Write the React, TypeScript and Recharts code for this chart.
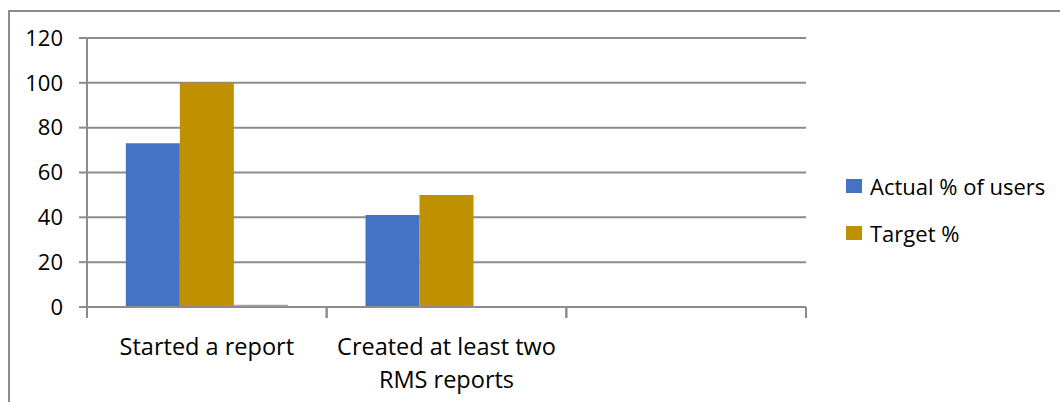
import { BarChart, Bar, XAxis, YAxis, CartesianGrid, Legend } from 'recharts'

const categories = ['Started a report', 'Created at least two RMS reports', '']
const actualPct = [73, 41, 0]
const targetPct = [100, 50, 0]
const otherPct = [1, 0, 0]
const yTicks = [0, 20, 40, 60, 80, 100, 120]

const BLUE = '#4472C4'
const GOLD = '#BF9000'
const GRAY = '#A5A5A5'
const LINE = '#8c8c8c'
const FONT = '"Open Sans", "Noto Sans", sans-serif'
const CAT_SIZE = 23.5

const data = categories.map((name, i) => ({
  name,
  actual: actualPct[i],
  target: targetPct[i],
  other: otherPct[i],
}))

const legendItems = [
  { label: 'Actual % of users', color: BLUE },
  { label: 'Target %', color: GOLD },
]

let ctx: CanvasRenderingContext2D | null = null
function wrap(text: string, maxW: number): string[] {
  if (!ctx) ctx = document.createElement('canvas').getContext('2d')
  if (!ctx) return [text]
  ctx.font = `${CAT_SIZE}px ${FONT}`
  const lines: string[] = []
  let cur = ''
  for (const w of text.split(' ')) {
    const next = cur ? cur + ' ' + w : w
    if (cur && ctx.measureText(next).width > maxW) {
      lines.push(cur)
      cur = w
    } else cur = next
  }
  if (cur) lines.push(cur)
  return lines
}

function CatTick({ x, y, payload }: any) {
  const half = payload.offset ?? 0
  const lines = wrap(String(payload.value), half * 2 - 6)
  return (
    <g>
      <line x1={x - half} x2={x - half} y1={y} y2={y + 11} stroke={LINE} strokeWidth={2} />
      <line x1={x + half} x2={x + half} y1={y} y2={y + 11} stroke={LINE} strokeWidth={2} />
      <text textAnchor="middle" fontSize={CAT_SIZE} fontFamily={FONT} fill="#000">
        {lines.map((l, i) => (
          <tspan key={i} x={x} y={y + 48 + i * 33}>
            {l}
          </tspan>
        ))}
      </text>
    </g>
  )
}

function LegendBox() {
  return (
    <div style={{ fontFamily: FONT, fontSize: 22, color: '#000' }}>
      {legendItems.map((it) => (
        <div key={it.label} style={{ display: 'flex', alignItems: 'center', height: 47 }}>
          <span style={{ width: 16, height: 14, background: it.color, marginRight: 8 }} />
          <span>{it.label}</span>
        </div>
      ))}
    </div>
  )
}

export default function App() {
  return (
    <div style={{ position: 'absolute', left: 0, top: 0, width: 1060, height: 402, overflow: 'hidden', background: '#fff' }}>
      <div
        style={{
          position: 'absolute',
          left: 8,
          top: 10,
          width: 1100,
          height: 500,
          border: `2px solid ${LINE}`,
        }}
      />
      <div style={{ position: 'absolute', left: 0, top: 0 }}>
        <BarChart
          width={1060}
          height={402}
          data={data}
          margin={{ top: 38, right: 40, bottom: 4, left: 0 }}
          barCategoryGap="16.2%"
          barGap={0}
        >
          <CartesianGrid vertical={false} stroke={LINE} strokeWidth={2} />
          <XAxis
            dataKey="name"
            height={91}
            axisLine={{ stroke: LINE, strokeWidth: 2 }}
            tickLine={false}
            tickSize={0}
            tickMargin={0}
            interval={0}
            tick={<CatTick />}
          />
          <YAxis
            width={87}
            domain={[0, 120]}
            ticks={yTicks}
            tickSize={8}
            tickMargin={16}
            axisLine={{ stroke: LINE, strokeWidth: 2 }}
            tickLine={{ stroke: LINE, strokeWidth: 2 }}
            tick={{ fontSize: 22, fontFamily: FONT, fill: '#000' }}
          />
          <Legend
            layout="vertical"
            align="right"
            verticalAlign="middle"
            content={<LegendBox />}
            wrapperStyle={{ left: 846, top: 162, width: 214 }}
          />
          <Bar dataKey="actual" fill={BLUE} isAnimationActive={false} />
          <Bar dataKey="target" fill={GOLD} isAnimationActive={false} />
          <Bar dataKey="other" fill={GRAY} legendType="none" isAnimationActive={false} />
        </BarChart>
      </div>
    </div>
  )
}
